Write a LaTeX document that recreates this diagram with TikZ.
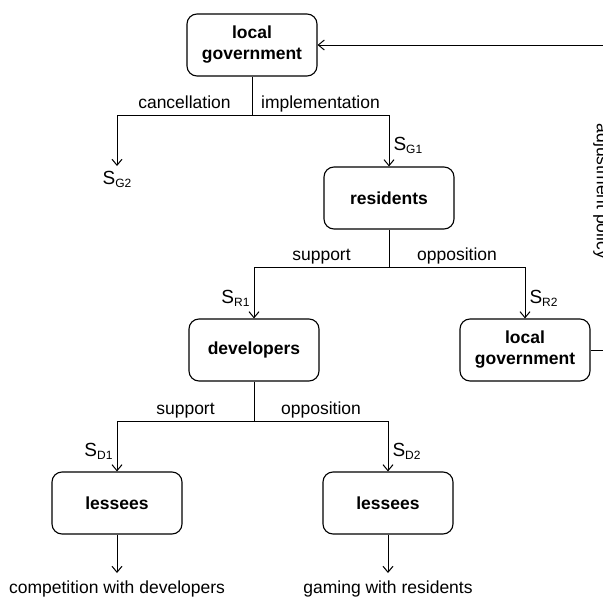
\documentclass[tikz,border=0pt]{standalone}
\usepackage{fontspec}
\setmainfont{Liberation Sans}
\usetikzlibrary{arrows.meta}
\newcommand{\strat}[1]{{\fontsize{19}{22}\selectfont S}\raisebox{-3pt}{\fontsize{12}{14}\selectfont #1}}

\begin{document}
\fontsize{17.5}{21}\selectfont
\begin{tikzpicture}[x=1pt,y=-1pt,>={Straight Barb[length=6pt,width=10pt]},line width=1pt]

%
% Styles
%
\tikzstyle{agent} = [rectangle,rounded corners=10pt,draw,line width=1.1pt,minimum width=130pt,minimum height=62pt,align=center,font=\bfseries]
\tikzstyle{choice} = [above,inner sep=6.5pt,text depth=0pt]
\tikzstyle{outcome} = [anchor=north,inner sep=5pt]
\tikzstyle{payoff} = [inner sep=4pt]

\useasboundingbox (0,0) rectangle (603,597);
\clip (0,0) rectangle (603,597);

\node[agent] (lg)   at (252, 45) {local\\government};
\node[agent] (res)  at (389,198) {residents};
\node[agent] (dev)  at (254,350) {developers};
\node[agent] (lg2)  at (525,350) {local\\government};
\node[agent] (les1) at (117,503) {lessees};
\node[agent] (les2) at (388,503) {lessees};

\node[outcome] (sg2) at (117,166) {\strat{G2}};
\node[outcome,inner ysep=7pt] (t1) at (117,573) {competition with developers};
\node[outcome,inner ysep=7pt] (t2) at (388,573) {gaming with residents};

\coordinate (j1) at (252,115);
\coordinate (j2) at (389,267);
\coordinate (j3) at (254,421);
\coordinate (fbl) at (612,350);
\coordinate (fbu) at (612,45);

% government
\draw (lg) -- (j1);
\draw[->] (j1) -| node[choice,pos=0.25] {cancellation} (sg2);
\draw[->] (j1) -| node[choice,pos=0.25] {implementation}
                  node[payoff,pos=0.8,right] {\strat{G1}} (res);

% residents
\draw (res) -- (j2);
\draw[->] (j2) -| node[choice,pos=0.25] {support}
                  node[payoff,pos=0.8,left] {\strat{R1}} (dev);
\draw[->] (j2) -| node[choice,pos=0.25] {opposition}
                  node[payoff,pos=0.8,right] {\strat{R2}} (lg2);

% developers
\draw (dev) -- (j3);
\draw[->] (j3) -| node[choice,pos=0.25] {support}
                  node[payoff,pos=0.8,left] {\strat{D1}} (les1);
\draw[->] (j3) -| node[choice,pos=0.25] {opposition}
                  node[payoff,pos=0.8,right] {\strat{D2}} (les2);

% lessees
\draw[->] (les1) -- (t1);
\draw[->] (les2) -- (t2);

% feedback
\draw[->] (lg2.east) -- (fbl) -- node[pos=0.52,rotate=-90,anchor=north,inner sep=2pt,fill=white] {adjustment policy} (fbu) -- (lg.east);

\end{tikzpicture}
\end{document}
